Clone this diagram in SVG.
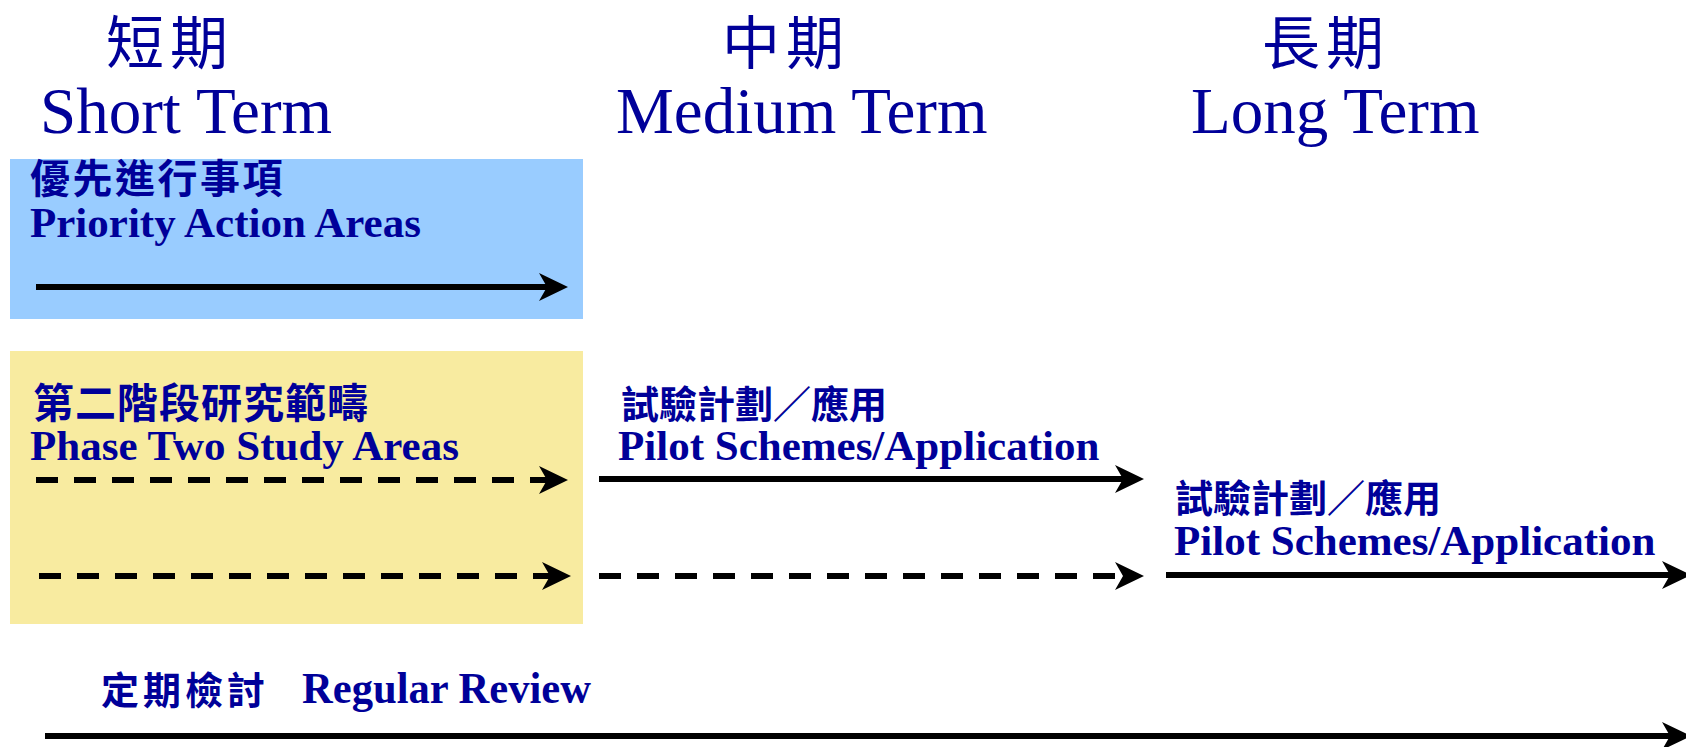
<svg xmlns="http://www.w3.org/2000/svg" width="1686" height="747" viewBox="0 0 1686 747">
  <style>
    .zh { font-family: "Noto Sans CJK TC", "Noto Sans CJK SC", sans-serif; fill: #000099; }
    .zh-head { font-size: 58px; font-weight: normal; letter-spacing: 6px; }
    .zh-lbl { font-size: 40px; font-weight: bold; }
    .en { font-family: "Liberation Serif", "Times New Roman", serif; fill: #000099; }
    .en-head { font-size: 65px; }
    .en-lbl { font-size: 43px; font-weight: bold; }
    .line { stroke: #000; stroke-width: 6; fill: none; marker-end: url(#arrow); }
    .dash { stroke-dasharray: 22 16; }
  </style>
  <defs>
    <marker id="arrow" markerUnits="userSpaceOnUse" viewBox="-1 -16 32 32" markerWidth="32" markerHeight="32" refX="8" refY="0" orient="auto">
      <path d="M29,0 L0,-14 L8,0 L0,14 Z" fill="#000"/>
    </marker>
  </defs>

  <rect width="1686" height="747" fill="#fff"/>

  <!-- column headings -->
  <g id="short-term">
    <text class="zh zh-head" x="106" y="64">短期</text>
    <text class="en en-head" x="40" y="133">Short Term</text>
  </g>
  <g id="medium-term">
    <text class="zh zh-head" x="722" y="64">中期</text>
    <text class="en en-head" x="616" y="133">Medium Term</text>
  </g>
  <g id="long-term">
    <text class="zh zh-head" x="1262" y="64">長期</text>
    <text class="en en-head" x="1191" y="133">Long Term</text>
  </g>

  <!-- short-term boxes -->
  <g id="priority-actions">
    <rect x="10" y="159" width="573" height="160" fill="#99CCFF"/>
    <text class="zh zh-lbl" x="30" y="193" style="letter-spacing:2.5px">優先進行事項</text>
    <text class="en en-lbl" x="30" y="237">Priority Action Areas</text>
  </g>
  <g id="phase-two">
    <rect x="10" y="351" width="573" height="273" fill="#F8EBA0"/>
    <text class="zh zh-lbl" x="33" y="418" style="font-size:41px;letter-spacing:1px">第二階段研究範疇</text>
    <text class="en en-lbl" x="30" y="460">Phase Two Study Areas</text>
  </g>

  <!-- pilot schemes labels -->
  <g id="pilot-medium">
    <text class="zh zh-lbl" x="621" y="418" style="font-size:38px">試驗計劃／應用</text>
    <text class="en en-lbl" x="618" y="460">Pilot Schemes/Application</text>
  </g>
  <g id="pilot-long">
    <text class="zh zh-lbl" x="1175" y="512" style="font-size:38px">試驗計劃／應用</text>
    <text class="en en-lbl" x="1174" y="555">Pilot Schemes/Application</text>
  </g>

  <!-- regular review label -->
  <g id="regular-review">
    <text class="zh zh-lbl" x="101" y="704" style="font-size:38px;letter-spacing:4px">定期檢討</text>
    <text class="en en-lbl" x="302" y="703" textLength="289" lengthAdjust="spacingAndGlyphs" style="font-size:44px">Regular Review</text>
  </g>

  <!-- connectors -->
  <g id="connectors">
    <line class="line" x1="36" y1="287" x2="547" y2="287"/>
    <line class="line dash" x1="36" y1="480" x2="547" y2="480"/>
    <line class="line dash" x1="39" y1="576" x2="550" y2="576"/>
    <line class="line" x1="599" y1="479" x2="1123" y2="479"/>
    <line class="line dash" x1="599" y1="576" x2="1123" y2="576"/>
    <line class="line" x1="1166" y1="575" x2="1670" y2="575"/>
    <line class="line" x1="45" y1="736" x2="1670" y2="736"/>
  </g>
</svg>
